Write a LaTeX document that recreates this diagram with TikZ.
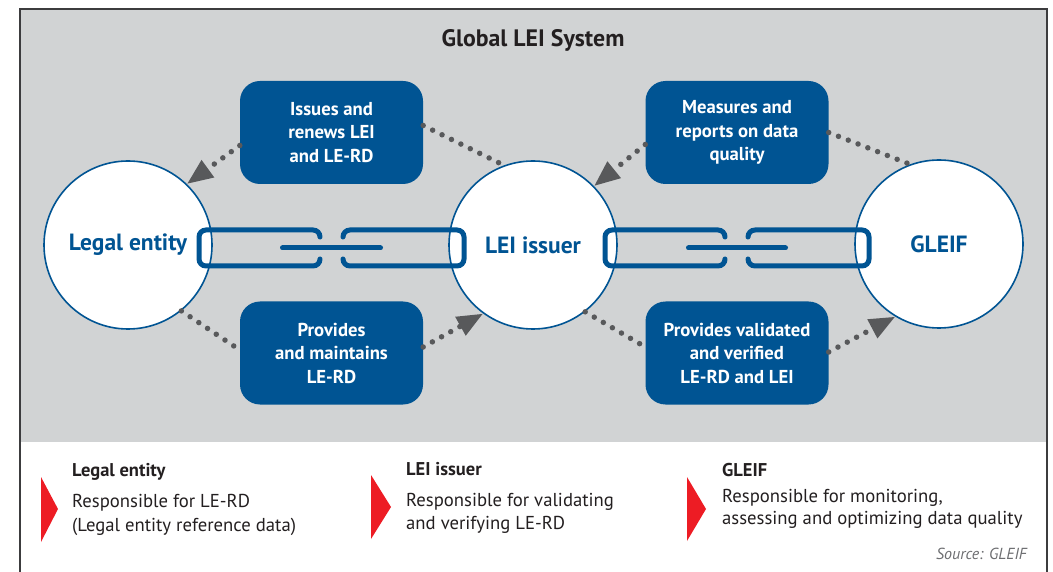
\documentclass[tikz,border=0pt]{standalone}
\usepackage{fontspec}
\setmainfont{PT Sans}
\usetikzlibrary{arrows.meta}

\definecolor{leiblue}{RGB}{0,84,147}
\definecolor{panelgray}{RGB}{209,211,212}
\definecolor{dotgray}{RGB}{88,89,91}
\definecolor{legendred}{RGB}{237,28,36}
\definecolor{inkgray}{RGB}{35,31,32}
\definecolor{framegray}{RGB}{60,60,62}
\definecolor{sourcegray}{RGB}{109,110,113}

\tikzset{
  party/.style={circle, draw=leiblue, line width=1.6pt, fill=white,
    minimum size=168pt, inner sep=0pt, text=leiblue,
    font=\fontsize{23.5}{28}\selectfont\bfseries},
  task/.style={rectangle, rounded corners=20pt, fill=leiblue,
    minimum width=183pt, minimum height=103pt, inner sep=0pt,
    text=white, align=center, font=\fontsize{18.7}{23.5}\selectfont\bfseries},
  chainlink/.style={draw=leiblue, line width=5pt, rounded corners=7pt, line cap=round},
  flow/.style={draw=dotgray, line width=5.5pt, line cap=round,
    dash pattern=on 0pt off 10.5pt},
  flowtip/.style={flow, -{Triangle[length=26pt,width=20pt]}},
  legendhead/.style={anchor=base west, inner sep=0pt, text=inkgray,
    font=\fontsize{18.5}{23}\selectfont\bfseries},
  legendtext/.style={anchor=base west, inner sep=0pt, text=inkgray,
    font=\fontsize{18.7}{23}\selectfont},
  marker/.style={fill=legendred}
}

% one open chain link: closed end x, open end x
\newcommand{\chainlinkat}[2]{%
  \draw[chainlink] (#2,237) -- (#2,230) -- (#1,230) -- (#1,266) -- (#2,266) -- (#2,259);}

\begin{document}
\begin{tikzpicture}[x=1pt, y=-1pt]
  \useasboundingbox (0,0) rectangle (1053,572);

  % Panel and frame
  \fill[panelgray] (20,9) rectangle (1047,442);
  \draw[framegray, line width=1.5pt] (20,572) -- (20,9) -- (1047,9) -- (1047,572);

  % Title
  \node[anchor=base, text=inkgray, font=\fontsize{23.8}{28}\selectfont\bfseries]
    (title) at (533,47) {Global LEI System};

  % Parties
  \node[party] (le) at (128,245) {Legal entity};
  \node[party] (lei) at (533,245) {LEI issuer};
  \node[party] (gleif) at (939,244) {GLEIF};

  % Tasks
  \node[task] (issue) at (331.5,132.5) {Issues and\\renews LEI\\and LE-RD};
  \node[task] (measure) at (737,132.5) {Measures and\\reports on data\\quality};
  \node[task] (provide) at (331.5,353) {Provides\\and maintains\\LE-RD};
  \node[task] (verify) at (737,353) {Provides validated\\and verified\\LE-RD and LEI};

  % Chains
  \chainlinkat{199}{320}
  \chainlinkat{464}{343}
  \draw[chainlink] (282.5,248) -- (380.5,248);
  \chainlinkat{605}{725}
  \chainlinkat{869}{748}
  \draw[chainlink] (688.5,248) -- (785.5,248);

  % Flows
  \draw[flowtip] ([yshift=-13pt]issue.west) -- (le.46);
  \draw[flow] ([yshift=7pt]issue.east) -- (lei.110);
  \draw[flowtip] ([yshift=-12pt]measure.west) -- (lei.44);
  \draw[flow] (measure.east) -- (gleif.110);
  \draw[flow] (le.-51) -- ([yshift=3pt]provide.west);
  \draw[flowtip] ([yshift=6pt]provide.east) -- (lei.234);
  \draw[flow] (lei.-52) -- ([yshift=6pt]verify.west);
  \draw[flowtip] ([yshift=1pt]verify.east) -- (gleif.239);

  % Legend
  \fill[marker] (41,477) -- (58,509) -- (41,542) -- cycle;
  \node[legendhead] (lehead) at (72,476) {Legal entity};
  \node[legendtext] (letext1) at (72,507) {Responsible for LE-RD};
  \node[legendtext] (letext2) at (72,531) {(Legal entity reference data)};

  \fill[marker] (371,475) -- (391,507) -- (371,539) -- cycle;
  \node[legendhead] (leihead) at (406,475) {LEI issuer};
  \node[legendtext] (leitext1) at (406,506) {Responsible for validating};
  \node[legendtext] (leitext2) at (406,529) {and verifying LE-RD};

  \fill[marker] (687,477) -- (706,509) -- (687,541) -- cycle;
  \node[legendhead] (gleifhead) at (722,476) {GLEIF};
  \node[legendtext] (gleiftext1) at (722,502) {Responsible for monitoring,};
  \node[legendtext] (gleiftext2) at (722,524) {assessing and optimizing data quality};

  % Source
  \node[anchor=base east, inner sep=0pt, text=sourcegray,
    font=\fontsize{16}{18}\selectfont\itshape] (source) at (1027,559) {Source: GLEIF};
\end{tikzpicture}
\end{document}
